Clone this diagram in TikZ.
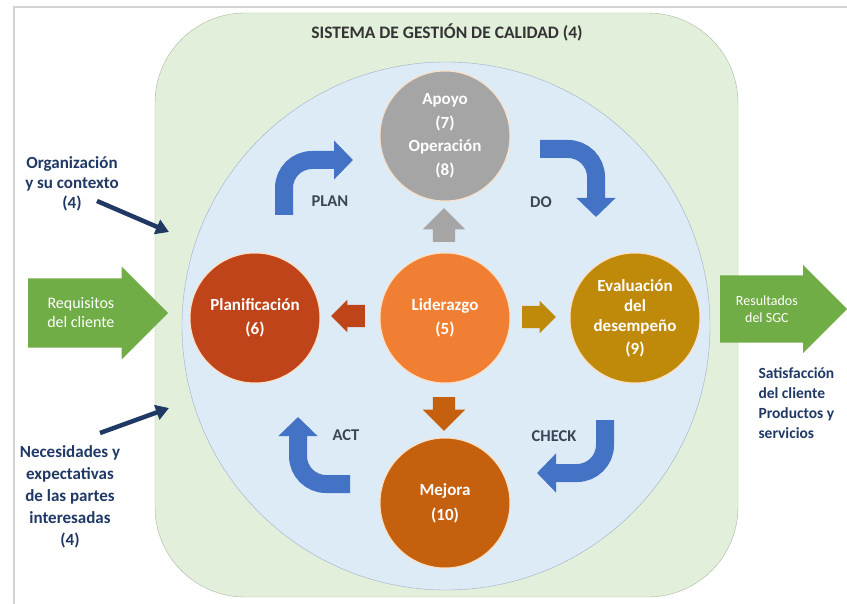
\documentclass[tikz,border=0pt]{standalone}
\usepackage{fontspec}
\setmainfont{Carlito}
\usetikzlibrary{positioning, arrows.meta, shapes.arrows}

\definecolor{sgcgreen}{HTML}{E2EFDA}
\definecolor{sgcline}{HTML}{A9B9A0}
\definecolor{cyclefill}{HTML}{DDEBF7}
\definecolor{cycleline}{HTML}{9DB0C8}
\definecolor{planred}{HTML}{C0441A}
\definecolor{mejbrown}{HTML}{C5600F}
\definecolor{evalgold}{HTML}{BF8A0A}
\definecolor{lidorange}{HTML}{F07F33}
\definecolor{apogray}{HTML}{A5A5A5}
\definecolor{pdcablue}{HTML}{4472C4}
\definecolor{inputgreen}{HTML}{70AD47}
\definecolor{navytext}{HTML}{1F3864}
\definecolor{pdcatext}{HTML}{3A4656}

\begin{document}
\begin{tikzpicture}[x=1pt, y=-1pt,
  font=\bfseries\fontsize{17}{20}\selectfont,
  stage/.style={circle, minimum size=130pt, inner sep=0pt, align=center,
                draw=orange!25, line width=1pt, text=white},
  push/.style={single arrow, anchor=tail, inner sep=11pt,
               single arrow head extend=10pt, minimum width=42pt},
  pushh/.style={push, single arrow head extend=5pt, minimum width=32pt},
  bigarrow/.style={single arrow, anchor=tail, fill=inputgreen, text=white,
                   align=center},
  pdca/.style={draw=pdcablue, line width=18pt, rounded corners=28pt,
               -{Triangle[width=38pt, length=19pt]}},
  pdcalab/.style={text=pdcatext, font=\bfseries\fontsize{16.5}{20}\selectfont},
  ctx/.style={text=navytext, align=center},
  ctxarrow/.style={draw=navytext, line width=4.5pt,
                   -{Triangle[width=15pt, length=13pt]}}
]
\useasboundingbox (0,0) rectangle (847,604);
\draw[gray!35, line width=2pt] (14,604) -- (14,7) -- (847,7);

% quality system frame
\draw[sgcline, fill=sgcgreen, rounded corners=90pt] (155,13) rectangle (738,597);
\node[text=black!80, font=\bfseries\fontsize{17.5}{20}\selectfont] (title) at (447,32)
  {SISTEMA DE GESTIÓN DE CALIDAD (4)};
\draw[cycleline, fill=cyclefill] (446,326) circle[radius=264];

% stages
\node[stage, fill=apogray] (apoyo) at (445,136)
  {Apoyo\\[4pt](7)\\[3pt]Operación\\[4pt](8)};
\node[stage, fill=lidorange] (lider) at (445,318) {Liderazgo\\[4pt](5)};
\node[stage, fill=planred] (plan) at (255,318) {Planificación\\[4pt](6)};
\node[stage, fill=evalgold] (eval) at (635,318)
  {Evaluación\\del\\desempeño\\[3pt](9)};
\node[stage, fill=mejbrown] (mejora) at (445,503) {Mejora\\[5pt](10)};

% small arrows around Liderazgo
\node[push, fill=apogray, minimum height=27pt, shape border rotate=90] (toapoyo) at (444,242) {};
\node[pushh, fill=planred, minimum height=28pt, shape border rotate=180] (toplan) at (365,316) {};
\node[pushh, fill=evalgold, minimum height=31pt] (toeval) at (522,317) {};
\node[push, fill=mejbrown, minimum height=26pt, shape border rotate=270] (tomejora) at (444,397) {};

% PDCA
\coordinate (planA) at (284,215); \coordinate (planB) at (284,160); \coordinate (planC) at (353,160);
\coordinate (doA) at (540,149);   \coordinate (doB) at (596,149);   \coordinate (doC) at (596,217);
\coordinate (chkA) at (605,420);  \coordinate (chkB) at (605,473);  \coordinate (chkC) at (537,473);
\coordinate (actA) at (350,484);  \coordinate (actB) at (298,484);  \coordinate (actC) at (298,417);
\draw[pdca] (planA) -- (planB) -- (planC);
\draw[pdca] (doA) -- (doB) -- (doC);
\draw[pdca] (chkA) -- (chkB) -- (chkC);
\draw[pdca] (actA) -- (actB) -- (actC);
\node[pdcalab] (planlab) at (330,201) {PLAN};
\node[pdcalab] (dolab) at (541,202) {DO};
\node[pdcalab] (actlab) at (346,435) {ACT};
\node[pdcalab] (chklab) at (554,436) {CHECK};

% inputs and outputs
\node[bigarrow, minimum height=140pt, minimum width=93pt, inner xsep=3pt, inner ysep=5.5pt,
      font=\fontsize{16}{19}\selectfont] (req) at (28,313) {Requisitos\\del cliente};
\node[bigarrow, minimum height=127pt, minimum width=88pt, inner xsep=3pt, inner ysep=9.5pt,
      font=\fontsize{14}{17}\selectfont] (res) at (720,309) {Resultados\\del SGC};
\node[ctx] (orgctx) at (72,184) {Organización\\y su contexto\\(4)};
\node[ctx, font=\bfseries\fontsize{17}{22}\selectfont] (partes) at (70,497)
  {Necesidades y\\expectativas\\de las partes\\interesadas\\(4)};
\node[ctx, align=left, anchor=west, font=\bfseries\fontsize{15.5}{20}\selectfont]
  (satis) at (755,403) {Satisfacción\\del cliente\\Productos y\\servicios};
\coordinate (orgA) at (97,201); \coordinate (orgB) at (169,232);
\coordinate (parA) at (100,433); \coordinate (parB) at (169,408);
\draw[ctxarrow] (orgA) -- (orgB);
\draw[ctxarrow] (parA) -- (parB);
\end{tikzpicture}
\end{document}
